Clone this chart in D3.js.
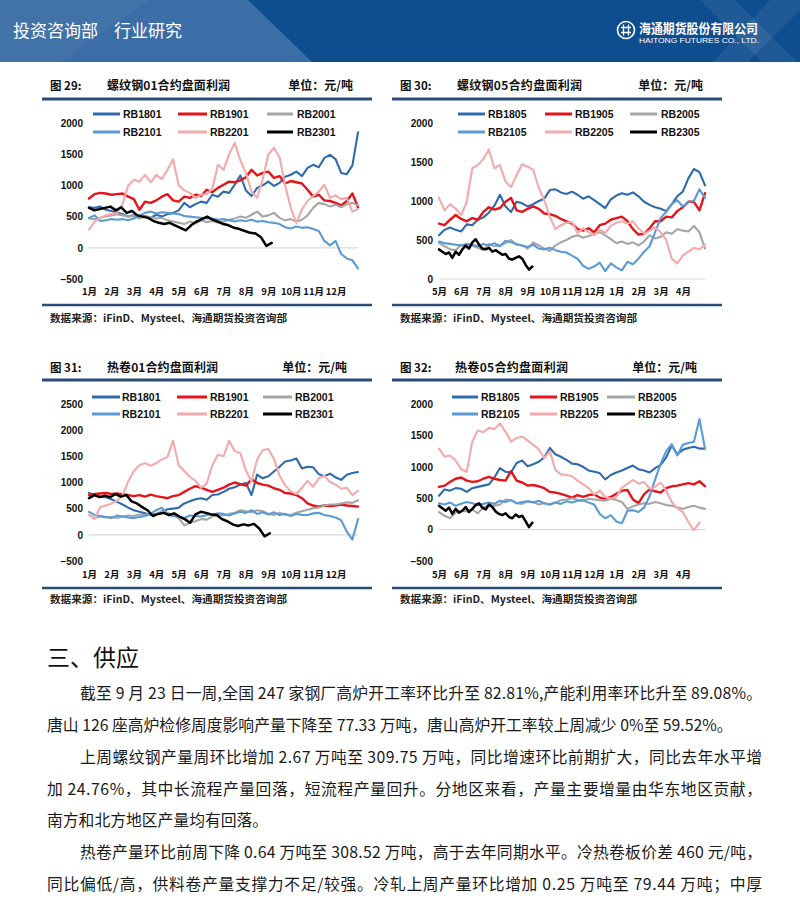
<!DOCTYPE html>
<html><head><meta charset="utf-8">
<script src="https://cdn.jsdelivr.net/npm/d3@7/dist/d3.min.js"></script>
<style>body{margin:0;background:#fff}svg{display:block}</style>
</head><body><svg id="page" width="800" height="905"></svg>
<script>
// ---------------- DATA ----------------
const months01 = ["1月","2月","3月","4月","5月","6月","7月","8月","9月","10月","11月","12月"];
const months05 = ["5月","6月","7月","8月","9月","10月","11月","12月","1月","2月","3月","4月"];
const names01 = ["RB1801","RB1901","RB2001","RB2101","RB2201","RB2301"];
const names05 = ["RB1805","RB1905","RB2005","RB2105","RB2205","RB2305"];
const ticks29 = [-500,0,500,1000,1500,2000];
const ticks30 = [0,500,1000,1500,2000];
const ticks31 = [-500,0,500,1000,1500,2000,2500];
const ticks32 = [-500,0,500,1000,1500,2000];

// last observation, in months from the first tick label
const ends29 = [12,12,12,12,12,8.15];
const ends30 = [12,12,12,12,12,4.21];
const ends31 = [12,12,12,12,12,8.07];
const ends32 = [12,12,12,12,11.75,4.21];

// 图29 螺纹钢01
const c29_1801 = [650,640,660,610,590,560,540,500,520,490,510,480,530,500,540,560,600,720,650,700,740,720,850,820,900,880,1010,1160,920,830,960,1000,1060,990,1040,1140,1170,1220,1150,1280,1330,1290,1440,1490,1420,1200,1180,1320,1850];
const c29_1901 = [790,860,880,870,850,860,870,820,780,610,740,720,760,820,860,760,740,820,800,850,830,930,890,960,1010,1060,1050,1080,1130,1250,1160,1200,1220,1120,1150,1030,1070,1050,1030,930,820,850,760,750,720,680,750,870,650];
const c29_2001 = [470,460,480,500,520,540,520,500,510,470,500,490,470,480,440,420,400,380,420,390,440,410,430,400,420,450,470,500,480,530,580,500,520,560,480,440,460,420,450,520,640,720,700,660,690,650,700,720,680];
const c29_2101 = [480,520,430,440,460,450,460,440,470,520,560,580,550,570,560,550,540,510,500,490,480,470,470,450,460,440,420,440,430,450,420,430,410,400,380,330,310,340,320,330,300,270,110,40,110,-100,-170,-200,-330];
const c29_2201 = [290,420,480,520,540,560,700,1000,1090,1060,1170,1050,1170,1100,1250,1420,1000,920,880,800,850,860,950,1330,1250,1500,1680,1400,1200,900,800,1100,1500,1600,1450,1000,640,400,620,750,830,900,1010,800,840,780,800,580,620];
const c29_2301 = [640,600,620,640,660,600,650,560,590,520,500,480,430,400,380,400,360,320,280,360,420,460,500,450,420,380,360,320,300,270,240,230,170,30,80];

// 图30 螺纹钢05
const c30_1805 = [560,630,660,630,610,700,690,760,790,850,940,1080,930,860,990,970,930,960,1000,1030,1140,1150,1110,1090,1120,1080,1030,1060,1010,960,910,1020,1070,1100,1080,1110,1060,990,950,920,900,870,960,1060,1120,1290,1410,1370,1200];
const c30_1905 = [710,690,760,820,770,740,780,760,860,920,890,910,990,1040,880,860,900,930,900,840,830,810,770,740,710,640,620,650,600,690,710,760,780,800,740,640,570,580,650,740,740,800,790,870,920,990,990,880,1100];
const c30_2005 = [460,420,380,370,440,400,430,400,370,450,420,430,460,500,440,430,390,470,430,390,360,430,470,500,540,560,530,550,580,600,560,510,460,480,450,470,430,480,560,520,540,600,580,640,620,610,680,600,390];
const c30_2105 = [480,460,450,440,430,450,440,420,450,430,460,420,490,470,450,430,410,440,390,380,400,370,350,340,300,260,170,130,160,210,100,200,150,110,220,190,260,350,420,600,780,860,960,1010,930,990,1000,1150,1040];
const c30_2205 = [1040,880,960,900,820,990,1420,1460,1540,1660,1420,1460,1250,1180,1330,1470,1440,1400,1170,1010,800,640,690,720,730,590,650,600,560,630,590,680,720,740,710,740,650,580,620,660,600,500,260,200,300,350,400,380,440];
const c30_2305 = [380,350,320,340,270,350,310,380,430,390,470,510,440,390,380,400,350,370,340,310,320,260,250,270,290,260,180,120,160];

// 图31 热卷01
const c31_1801 = [800,760,730,720,680,630,580,520,470,440,410,380,400,430,490,500,520,600,640,680,700,670,760,770,820,880,910,960,990,760,1150,1080,1120,1210,1300,1400,1420,1460,1270,1300,1290,1160,1120,1170,1100,1050,1150,1180,1200];
const c31_1901 = [760,780,790,800,780,790,770,760,740,760,730,770,740,720,700,740,760,820,880,930,900,860,820,860,900,960,1000,970,940,1060,990,960,940,890,860,800,790,760,700,600,560,540,560,550,560,580,560,550,540];
const c31_2001 = [380,320,350,330,340,320,350,370,360,390,380,400,380,460,420,380,320,180,230,260,300,290,350,380,370,400,420,470,450,430,470,450,400,380,420,390,380,420,450,480,510,520,560,580,580,600,620,610,660];
const c31_2101 = [440,380,360,340,320,370,350,330,320,340,360,400,470,520,380,360,340,320,370,360,350,380,390,410,400,370,410,440,420,470,400,430,390,430,380,400,360,400,380,380,410,420,380,360,330,280,60,-90,300];
const c31_2201 = [380,300,530,560,600,650,760,1020,1220,1330,1370,1320,1370,1440,1490,1800,1330,1220,1110,1030,900,980,1330,1530,1500,1800,1600,1560,1230,1020,1440,1620,1640,1450,1130,950,830,780,900,1030,920,1080,1130,1010,960,880,900,760,840];
const c31_2301 = [700,760,720,750,720,780,730,760,640,600,530,470,360,400,420,380,410,350,300,230,390,440,420,390,380,300,260,200,170,200,180,210,120,-30,30];

// 图32 热卷05
const c32_1805 = [540,640,620,660,650,600,660,680,700,720,830,980,920,910,1060,1100,1010,1040,1080,1150,1300,1200,1160,1110,1050,1040,1000,940,920,900,800,870,910,940,980,1020,960,940,910,980,1030,1150,1340,1200,1270,1300,1320,1290,1290];
const c32_1905 = [680,700,760,810,830,780,760,770,810,840,810,790,780,930,780,750,700,710,690,660,600,590,570,540,510,550,520,550,560,510,490,520,570,620,630,480,420,560,640,610,590,660,690,700,720,740,720,770,690];
const c32_2005 = [280,220,180,270,300,290,320,260,350,390,380,400,480,470,420,410,450,440,400,420,400,430,470,480,500,470,460,490,480,470,460,490,470,440,330,370,400,420,410,440,420,390,380,350,330,360,380,350,330];
const c32_2105 = [420,400,430,380,410,440,420,390,410,430,410,460,440,470,420,440,450,430,460,420,400,430,410,450,430,460,470,430,400,250,180,230,130,100,300,310,280,350,530,800,1050,1250,1360,1180,1350,1380,1400,1760,1290];
const c32_2205 = [1290,1160,1180,1100,960,920,1400,1580,1550,1620,1600,1690,1560,1400,1460,1480,1420,1350,1280,1140,1250,950,880,870,850,780,720,660,560,620,520,490,520,670,730,790,730,760,650,680,750,620,440,340,280,120,-10,110];
const c32_2305 = [380,340,300,350,250,330,270,300,360,280,330,390,420,350,320,400,360,290,250,230,260,200,180,240,200,220,130,40,110];

// ---------------- STYLE ----------------
const colors = ["#2f6aad","#e5141b","#a6a6a6","#5b9bd5","#f4aaaa","#000000"];
const widths = [2.1,2.4,2.1,2.1,2.1,2.5];
const LAT = "'Liberation Sans', Arial, sans-serif";
const CJK = "'Noto Sans CJK SC', 'Noto Sans', sans-serif";
const RULE = "#2a4a78";

const svg = d3.select("#page");
svg.append("rect").attr("width",800).attr("height",905).attr("fill","#fff");

// ---------------- HEADER ----------------
const hd = svg.append("g");
hd.append("rect").attr("x",0).attr("y",0).attr("width",800).attr("height",62).attr("fill","#0f4e8e");
hd.append("polygon").attr("points","0,0 248,0 312,62 0,62").attr("fill","#3b6ea6");
hd.append("polygon").attr("points","0,0 150,0 60,62 0,62").attr("fill","#ffffff").attr("opacity",0.03);
hd.append("polygon").attr("points","700,0 735,0 797,62 762,62").attr("fill","#ffffff").attr("opacity",0.07);
hd.append("polygon").attr("points","770,0 800,0 800,10 748,62 713,62").attr("fill","#ffffff").attr("opacity",0.07);
hd.append("text").attr("x",13).attr("y",37).attr("fill","#fff").attr("font-family",CJK).attr("font-size",17).text("投资咨询部");
hd.append("text").attr("x",114).attr("y",37).attr("fill","#fff").attr("font-family",CJK).attr("font-size",17).text("行业研究");
const logo = hd.append("g").attr("transform","translate(626,30)");
logo.append("circle").attr("r",8.5).attr("fill","none").attr("stroke","#fff").attr("stroke-width",1.6);
logo.append("path").attr("d","M-5,-2.5H5M-5,2.5H5M-2.5,-5.5V5.5M2.5,-5.5V5.5").attr("stroke","#fff").attr("stroke-width",1.3).attr("fill","none");
hd.append("text").attr("x",639).attr("y",33).attr("fill","#fff").attr("font-family",CJK).attr("font-weight",700)
  .attr("font-size",13).attr("textLength",119).attr("lengthAdjust","spacingAndGlyphs").text("海通期货股份有限公司");
hd.append("text").attr("x",639).attr("y",43).attr("fill","#fff").attr("font-family",LAT)
  .attr("font-size",7.6).attr("textLength",120).attr("lengthAdjust","spacingAndGlyphs").text("HAITONG FUTURES CO., LTD.");

// ---------------- CHARTS ----------------
const charts = [
  {fig:"图 29:", title:"螺纹钢01合约盘面利润", names:names01, months:months01, ticks:ticks29, ends:ends29,
   series:[c29_1801,c29_1901,c29_2001,c29_2101,c29_2201,c29_2301],
   L:{rx0:42, rx1:372, titleY:86, ruleTop:99, ruleBot:305, srcY:318, srcX:50, px0:89, px1:358, pyTop:123, pyBot:279,
      yLabX:83, xLabY:292, legRows:[114,132], legCols:[[93,120,123],[178,207,210],[267,293,297]],
      figX:50, titleX:107, titleW:123, unitEnd:353}},
  {fig:"图 30:", title:"螺纹钢05合约盘面利润", names:names05, months:months05, ticks:ticks30, ends:ends30,
   series:[c30_1805,c30_1905,c30_2005,c30_2105,c30_2205,c30_2305],
   L:{rx0:392, rx1:722, titleY:86, ruleTop:99, ruleBot:305, srcY:318, srcX:400, px0:439, px1:705, pyTop:123, pyBot:279,
      yLabX:433, xLabY:292, legRows:[114,132], legCols:[[458,485,488],[545,572,575],[630,657,661]],
      figX:400, titleX:457, titleW:125, unitEnd:703}},
  {fig:"图 31:", title:"热卷01合约盘面利润", names:names01, months:months01, ticks:ticks31, ends:ends31,
   series:[c31_1801,c31_1901,c31_2001,c31_2101,c31_2201,c31_2301],
   L:{rx0:42, rx1:372, titleY:368, ruleTop:380, ruleBot:588, srcY:599, srcX:50, px0:89, px1:358, pyTop:404, pyBot:561,
      yLabX:83, xLabY:575, legRows:[397,414], legCols:[[92,120,122],[177,207,210],[263,292,295]],
      figX:50, titleX:107, titleW:111, unitEnd:347}},
  {fig:"图 32:", title:"热卷05合约盘面利润", names:names05, months:months05, ticks:ticks32, ends:ends32,
   series:[c32_1805,c32_1905,c32_2005,c32_2105,c32_2205,c32_2305],
   L:{rx0:392, rx1:722, titleY:368, ruleTop:380, ruleBot:588, srcY:599, srcX:400, px0:439, px1:705, pyTop:404, pyBot:561,
      yLabX:433, xLabY:575, legRows:[397,414], legCols:[[452,478,481],[530,557,560],[607,635,638]],
      figX:400, titleX:455, titleW:113, unitEnd:697}}
];

charts.forEach(c => {
  const L = c.L;
  const g = svg.append("g");
  // title row
  g.append("text").attr("x",L.figX).attr("y",L.titleY).attr("dy","0.36em").attr("font-family",CJK).attr("font-weight",700)
    .attr("font-size",11.5).attr("fill","#111").text(c.fig);
  g.append("text").attr("x",L.titleX).attr("y",L.titleY).attr("dy","0.36em").attr("font-family",CJK).attr("font-weight",700)
    .attr("font-size",12).attr("fill","#111").attr("textLength",L.titleW).attr("lengthAdjust","spacing").text(c.title);
  g.append("text").attr("x",L.unitEnd).attr("y",L.titleY).attr("dy","0.36em").attr("text-anchor","end").attr("font-family",CJK)
    .attr("font-weight",700).attr("font-size",12).attr("fill","#111").text("单位：元/吨");
  g.append("line").attr("x1",L.rx0).attr("x2",L.rx1).attr("y1",L.ruleTop).attr("y2",L.ruleTop).attr("stroke",RULE).attr("stroke-width",3);
  g.append("line").attr("x1",L.rx0).attr("x2",L.rx1).attr("y1",L.ruleBot).attr("y2",L.ruleBot).attr("stroke",RULE).attr("stroke-width",2.5);
  g.append("text").attr("x",L.srcX).attr("y",L.srcY).attr("dy","0.36em").attr("font-family",CJK).attr("font-weight",700)
    .attr("font-size",10).attr("fill","#222").attr("textLength",237).attr("lengthAdjust","spacingAndGlyphs")
    .text("数据来源：iFinD、Mysteel、海通期货投资咨询部");

  const x = d3.scaleLinear().domain([0,12]).range([L.px0,L.px1]);
  const y = d3.scaleLinear().domain(d3.extent(c.ticks)).range([L.pyBot,L.pyTop]);

  // zero line
  g.append("line").attr("x1",x(0)).attr("x2",x(12)).attr("y1",y(0)).attr("y2",y(0)).attr("stroke","#d9d9d9").attr("stroke-width",1.2);

  // y axis
  const gy = g.append("g").attr("transform",`translate(${L.yLabX},0)`)
    .call(d3.axisLeft(y).tickValues(c.ticks).tickFormat(d3.format("d")).tickSize(0).tickPadding(0));
  gy.select(".domain").remove();
  gy.selectAll("text").attr("font-family",LAT).attr("font-weight",700).attr("font-size",10).attr("fill","#111");

  // x axis
  const gx = g.append("g").attr("transform",`translate(0,${L.xLabY})`)
    .call(d3.axisBottom(x).tickValues(d3.range(c.months.length)).tickFormat(i => c.months[i]).tickSize(0).tickPadding(0));
  gx.select(".domain").remove();
  gx.selectAll("text").attr("y",0).attr("dy","0.36em").attr("font-family",CJK).attr("font-weight",700).attr("font-size",9.5).attr("fill","#111");

  // series
  c.series.forEach((vals, k) => {
    const step = c.ends[k] / (vals.length - 1);
    const line = d3.line().x((d,i) => x(i*step)).y(d => y(d));
    g.append("path").attr("d", line(vals)).attr("fill","none").attr("stroke",colors[k])
      .attr("stroke-width",widths[k]).attr("stroke-linejoin","round").attr("stroke-linecap","round");
  });

  // legend
  c.names.forEach((nm, k) => {
    const row = L.legRows[Math.floor(k/3)], col = L.legCols[k%3];
    g.append("line").attr("x1",col[0]).attr("x2",col[1]).attr("y1",row).attr("y2",row).attr("stroke",colors[k]).attr("stroke-width",3);
    g.append("text").attr("x",col[2]).attr("y",row).attr("dy","0.36em").attr("font-family",LAT).attr("font-weight",700)
      .attr("font-size",10.5).attr("fill","#111").text(nm);
  });
});

// ---------------- BODY TEXT ----------------
const paraLines = [
  {t:"截至 9 月 23 日一周,全国 247 家钢厂高炉开工率环比升至 82.81%,产能利用率环比升至 89.08%。", x:80, y:693, w:682},
  {t:"唐山 126 座高炉检修周度影响产量下降至 77.33 万吨，唐山高炉开工率较上周减少 0%至 59.52%。", x:47, y:725, w:0},
  {t:"上周螺纹钢产量周环比增加 2.67 万吨至 309.75 万吨，同比增速环比前期扩大，同比去年水平增", x:80, y:757, w:682},
  {t:"加 24.76%，其中长流程产量回落，短流程产量回升。分地区来看，产量主要增量由华东地区贡献，", x:47, y:789, w:715},
  {t:"南方和北方地区产量均有回落。", x:47, y:820, w:0},
  {t:"热卷产量环比前周下降 0.64 万吨至 308.52 万吨，高于去年同期水平。冷热卷板价差 460 元/吨，", x:80, y:852, w:682},
  {t:"同比偏低/高，供料卷产量支撑力不足/较强。冷轧上周产量环比增加 0.25 万吨至 79.44 万吨；中厚", x:47, y:884, w:715}
];
svg.append("text").attr("x",47).attr("y",658).attr("dy","0.36em").attr("font-family",CJK).attr("font-size",23)
  .attr("fill","#111").text("三、供应");
paraLines.forEach(p => {
  const t = svg.append("text").attr("x",p.x).attr("y",p.y).attr("dy","0.36em").attr("font-family",CJK)
    .attr("font-size",15.8).attr("fill","#1a1a1a").text(p.t);
  if (p.w) t.attr("textLength",p.w).attr("lengthAdjust","spacing");
});
</script></body></html>
